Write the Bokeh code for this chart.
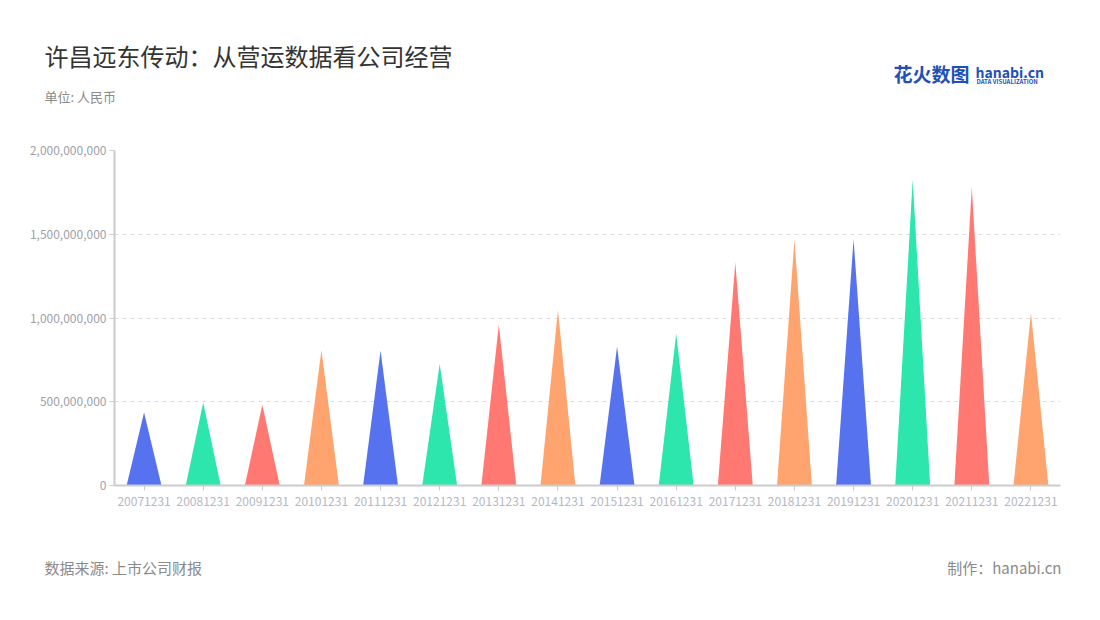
from bokeh.plotting import figure
from bokeh.layouts import column
from bokeh.models import Range1d, FixedTicker, NumeralTickFormatter, ColumnDataSource
from bokeh.core.properties import value
from bokeh.embed import file_html
from bokeh.resources import INLINE

# ---------------- data ----------------
periods = ["20071231", "20081231", "20091231", "20101231", "20111231", "20121231",
           "20131231", "20141231", "20151231", "20161231", "20171231", "20181231",
           "20191231", "20201231", "20211231", "20221231"]
revenue = [436e6, 496e6, 482e6, 809e6, 805e6, 725e6, 960e6, 1048e6,
           829e6, 908e6, 1331e6, 1470e6, 1470e6, 1825e6, 1781e6, 1032e6]
palette = ["#5672EE", "#2CE6AE", "#FF7872", "#FFA46F"]
y_ticks = [0, 500e6, 1000e6, 1500e6, 2000e6]

title_text = "许昌远东传动：从营运数据看公司经营"
unit_text = "单位: 人民币"
source_text = "数据来源: 上市公司财报"
maker_text = "制作：hanabi.cn"
logo_cn = "花火数图"
logo_en = "hanabi.cn"
logo_sub = "DATA VISUALIZATION"

FONT = "Noto Sans CJK SC"

# ---------------- layout (page coordinates) ----------------
W = 1084
HEAD_H, MAIN_H, FOOT_H = 140, 390, 74
frame_left, frame_right, frame_top, frame_bottom = 114, 1060, 150, 485


def text_strip(height, top):
    """A figure with no axes whose frame fills it; ranges are page pixels."""
    f = figure(width=W, height=height, output_backend="svg", toolbar_location=None,
               x_range=Range1d(0, W), y_range=Range1d(top + height, top),
               x_axis_location=None, y_axis_location=None,
               min_border=0, min_border_left=0, min_border_right=0,
               min_border_top=0, min_border_bottom=0)
    f.frame_align = False
    f.outline_line_color = None
    f.grid.visible = False
    f.background_fill_color = "white"
    f.border_fill_color = "white"
    return f


def put(f, text, x, y, size, color, align="left", style="normal"):
    f.text(x=[x], y=[y], text=[text], text_font=value(FONT), text_font_size=value(size),
           text_color=color, text_align=align, text_baseline="middle",
           text_font_style=style)


# header
head = text_strip(HEAD_H, 0)
put(head, title_text, 44, 55, "24px", "#333333")
put(head, unit_text, 44, 96, "13px", "#8a8a8a")
put(head, logo_cn, 893, 73, "19px", "#1f4fb8", style="bold")
put(head, logo_en, 975, 71, "14px", "#1f4fb8", style="bold")
put(head, logo_sub, 976, 81, "6px", "#1f4fb8", style="bold")

# main chart
p = figure(width=W, height=MAIN_H, output_backend="svg", toolbar_location=None,
           x_range=Range1d(0, len(periods)), y_range=Range1d(0, 2000e6),
           min_border_left=frame_left, min_border_right=W - frame_right,
           min_border_top=frame_top - HEAD_H,
           min_border_bottom=HEAD_H + MAIN_H - frame_bottom)
p.frame_align = False
p.outline_line_color = None
p.background_fill_color = "white"
p.border_fill_color = "white"

bar_w = 0.59
xs, ys, cols = [], [], []
for i, v in enumerate(revenue):
    c = i + 0.5
    xs.append([c - bar_w / 2, c, c + bar_w / 2])
    ys.append([0, v, 0])
    cols.append(palette[i % len(palette)])
src = ColumnDataSource(dict(xs=xs, ys=ys, color=cols))
p.patches("xs", "ys", source=src, fill_color="color", line_color=None, fill_alpha=1.0)

p.xaxis.ticker = FixedTicker(ticks=[i + 0.5 for i in range(len(periods))])
p.xaxis.major_label_overrides = {i + 0.5: s for i, s in enumerate(periods)}
p.xaxis.minor_tick_line_color = None
p.xaxis.major_tick_in = 0
p.xaxis.major_tick_out = 5
p.xaxis.axis_line_color = "#cccccc"
p.xaxis.axis_line_width = 2
p.xaxis.major_tick_line_color = "#cccccc"
p.xaxis.major_label_text_color = "#b4b8c4"
p.xaxis.major_label_text_font = FONT
p.xaxis.major_label_text_font_size = "12px"
p.xaxis.major_label_standoff = 6

p.yaxis.ticker = FixedTicker(ticks=y_ticks)
p.yaxis.formatter = NumeralTickFormatter(format="0,0")
p.yaxis.minor_tick_line_color = None
p.yaxis.major_tick_in = 0
p.yaxis.major_tick_out = 5
p.yaxis.axis_line_color = "#cccccc"
p.yaxis.axis_line_width = 2
p.yaxis.major_tick_line_color = "#cccccc"
p.yaxis.major_label_text_color = "#a0a0a8"
p.yaxis.major_label_text_font = FONT
p.yaxis.major_label_text_font_size = "12px"
p.yaxis.major_label_standoff = 3

p.xgrid.grid_line_color = None
p.ygrid.grid_line_color = "#dddddd"
p.ygrid.grid_line_dash = "4 4"
p.ygrid.ticker = FixedTicker(ticks=y_ticks[1:])

# footer
foot_top = HEAD_H + MAIN_H
foot = text_strip(FOOT_H, foot_top)
put(foot, source_text, 44, 567, "15px", "#8a8a8a")
put(foot, maker_text, 1061, 567, "15px", "#8a8a8a", align="right")

layout = column(head, p, foot, spacing=0)
open("out.html", "w").write(file_html(layout, INLINE))
